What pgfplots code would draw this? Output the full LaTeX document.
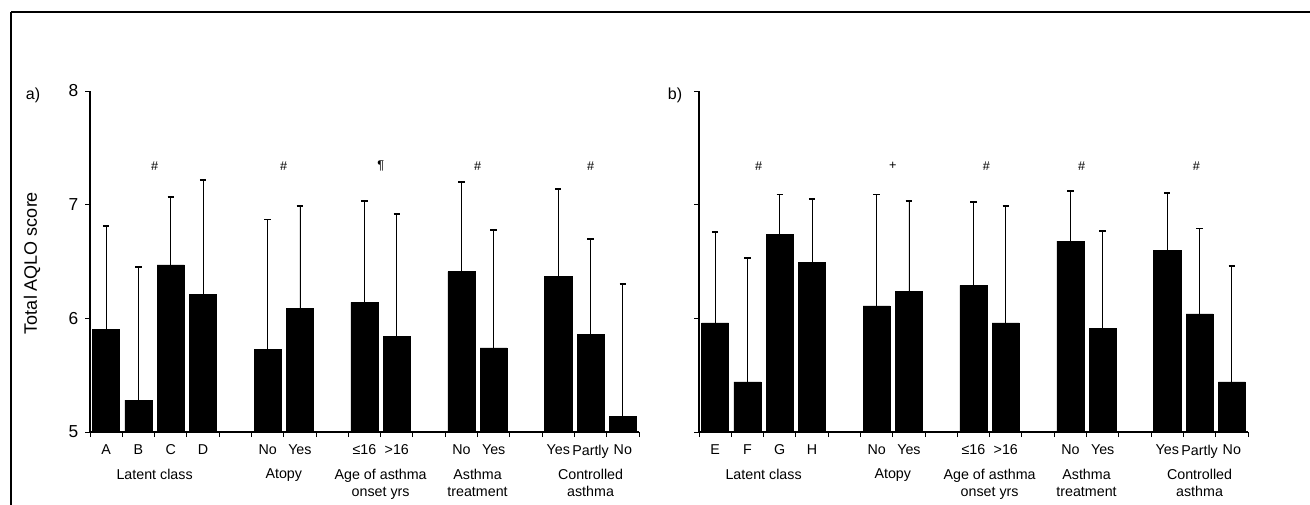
\documentclass[border=0pt]{standalone}
\usepackage{fontspec}
\setmainfont{Liberation Sans}
\usepackage{pgfplots}
\usepackage{pgfplotstable}
\pgfplotsset{compat=1.18}

\pgfplotstableread{
x y e
0.5 5.90 0.91
1.5 5.28 1.17
2.5 6.47 0.60
3.5 6.21 1.01
5.5 5.73 1.14
6.5 6.09 0.90
8.5 6.14 0.89
9.5 5.84 1.08
11.5 6.41 0.79
12.5 5.74 1.04
14.5 6.37 0.77
15.5 5.86 0.84
16.5 5.14 1.16
}\dataA

\pgfplotstableread{
x y e
0.5 5.96 0.80
1.5 5.44 1.09
2.5 6.74 0.35
3.5 6.49 0.56
5.5 6.11 0.98
6.5 6.24 0.79
8.5 6.29 0.73
9.5 5.96 1.03
11.5 6.68 0.44
12.5 5.91 0.86
14.5 6.60 0.50
15.5 6.04 0.75
16.5 5.44 1.02
}\dataB

\pgfplotsset{
  panel/.style={
    scale only axis,
    width=411.75pt, height=255.75pt,
    anchor=south west,
    xmin=0, xmax=17, ymin=5, ymax=8,
    axis lines=left,
    axis line style={-, line width=0.9pt},
    clip=false,
    tick align=outside,
    major tick length=3.75pt,
    tick style={black, line width=0.7pt},
    xtick={0,...,17},
    xticklabels={},
    ytick={5,6,7,8},
    /pgf/number format/assume math mode=true,
    yticklabel style={font=\fontsize{13}{15}\selectfont, xshift=-1.5pt},
    extra x ticks={0.5,1.5,2.5,3.5,5.5,6.5,8.5,9.5,11.5,12.5,14.5,15.5,16.5},
    extra x tick style={major tick length=0pt, tick style={draw=none},
      xticklabel style={font=\fontsize{10.7}{12.75}\selectfont, yshift=-6pt, inner xsep=0pt}},
  },
  bars/.style={ybar, bar width=0.84, bar shift=0pt, fill=black, draw=black,
    error bars/.cd, y dir=plus, y explicit,
    error bar style={line width=0.6pt, black},
    error mark=-, error mark options={rotate=90, line width=1.4pt, mark size=2.4pt, black}},
}
\tikzset{
  grp/.style={anchor=north, align=center, inner sep=0pt, yshift=-27.5pt, font=\fontsize{10.7}{12.75}\selectfont},
  sig/.style={font=\fontsize{9.5}{10}\selectfont, inner sep=0pt},
}

\begin{document}
\begin{tikzpicture}
\useasboundingbox (0,0) rectangle (982.5pt,-378pt);
\draw[line width=1pt] (8.25pt,-9pt) -- (1000pt,-9pt);
\draw[line width=1pt] (8.25pt,-9pt) -- (8.25pt,-400pt);

\node[font=\fontsize{12}{14}\selectfont] at (24.75pt,-71.25pt) {a)};
\node[font=\fontsize{12}{14}\selectfont] at (506.25pt,-71.25pt) {b)};
\node[rotate=90, font=\fontsize{13.5}{15}\selectfont] at (24pt,-197.25pt) {Total AQLO score};

\begin{axis}[panel, at={(67.5pt,-324pt)},
  extra x tick labels={A,B,C,D,No,Yes,≤16,>16,No,Yes,Yes,Partly,No}]
\addplot[bars] table[x=x, y=y, y error=e] {\dataA};
\node[sig] at (axis cs:2,7.34) {\#};
\node[sig] at (axis cs:6,7.34) {\#};
\node[sig] at (axis cs:9,7.34) {¶};
\node[sig] at (axis cs:12,7.34) {\#};
\node[sig] at (axis cs:15.5,7.34) {\#};
\node[grp] at (axis cs:2,5) {Latent class};
\node[grp] at (axis cs:6,5) {Atopy};
\node[grp] at (axis cs:9,5) {Age of asthma\\onset yrs};
\node[grp] at (axis cs:12,5) {Asthma\\treatment};
\node[grp] at (axis cs:15.5,5) {Controlled\\asthma};
\end{axis}

\begin{axis}[panel, at={(524.25pt,-324pt)}, yticklabels={},
  extra x tick labels={E,F,G,H,No,Yes,≤16,>16,No,Yes,Yes,Partly,No}]
\addplot[bars] table[x=x, y=y, y error=e] {\dataB};
\node[sig] at (axis cs:1.85,7.34) {\#};
\node[sig] at (axis cs:6,7.34) {+};
\node[sig] at (axis cs:8.9,7.34) {\#};
\node[sig] at (axis cs:11.85,7.34) {\#};
\node[sig] at (axis cs:15.4,7.34) {\#};
\node[grp] at (axis cs:2,5) {Latent class};
\node[grp] at (axis cs:6,5) {Atopy};
\node[grp] at (axis cs:9,5) {Age of asthma\\onset yrs};
\node[grp] at (axis cs:12,5) {Asthma\\treatment};
\node[grp] at (axis cs:15.5,5) {Controlled\\asthma};
\end{axis}
\end{tikzpicture}
\end{document}
